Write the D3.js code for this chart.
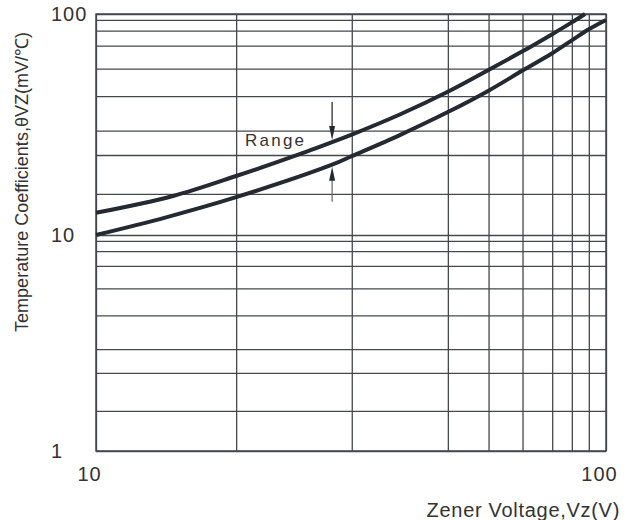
<!DOCTYPE html>
<html>
<head>
<meta charset="utf-8">
<script src="https://cdn.jsdelivr.net/npm/d3@7/dist/d3.min.js"></script>
<style>
    body { margin: 0; background: #fff; }
    text { font-family: "Liberation Sans", Arial, sans-serif; fill: #333; }
</style>
</head>
<body>
<div id="chart"></div>
<script>
// grid values (x: Zener voltage, y: temperature coefficient)
var xGridValues = [10, 20, 30, 40, 50, 60, 70, 80, 90, 100];
var yGridValues = [1, 2, 3, 4, 5, 6, 7, 8, 9, 10, 20, 30, 40, 50, 60, 70, 80, 90, 100];
var xTickLabels = [10, 100];
var yTickLabels = [1, 10, 100];

// upper limit of the range
var upperVz = [10, 15.5, 20, 26.1, 28.3, 30, 35, 40, 50, 60, 70, 80, 87.8];
var upperTc = [15.4, 19.5, 24.6, 31.4, 35.3, 38.4, 44.7, 51.6, 59.5, 67.5, 77.6, 87.7, 100];

// lower limit of the range
var lowerVz = [10, 15, 20, 28.3, 30, 35, 40, 50, 60, 70, 80, 90, 100];
var lowerTc = [10, 14.3, 19.2, 27.5, 29.7, 38.2, 45.4, 52, 59.3, 66.7, 73.5, 81.2, 90];

// "Range" marker position
var rangeVz = 28.3;
var rangeTc = [35.3, 27.5];

var margin = { top: 14, right: 27, bottom: 69, left: 96 },
    width = 633 - margin.left - margin.right,
    height = 520 - margin.top - margin.bottom;

// the printed grid is not a true log grid, so the scales follow the
// spacing of the drawn lines inside each decade
var xStops = [0, .2748, .5015, .6899, .7697, .8363, .8945, .9330, .9663, 1];
var yStops = [0, .186, .362, .472, .628, .753, .857, .925, .973];
var upperDecade = 221, lowerDecade = height - upperDecade;

var x = d3.scaleLinear()
    .domain(xGridValues)
    .range(xStops.map(function(f) { return f * width; }));

var y = d3.scaleLinear()
    .domain(yGridValues)
    .range(yGridValues.map(function(v) {
        if (v < 10) return height - yStops[v - 1] * lowerDecade;
        if (v === 100) return 0;
        return upperDecade - yStops[v / 10 - 1] * upperDecade;
    }));

var svg = d3.select("#chart").append("svg")
    .attr("width", 633)
    .attr("height", 520)
    .append("g")
    .attr("transform", "translate(" + margin.left + "," + margin.top + ")");

// grid
svg.append("g")
    .attr("class", "grid")
    .attr("transform", "translate(0," + height + ")")
    .call(d3.axisBottom(x).tickValues(xGridValues).tickSize(-height).tickFormat(""));
svg.append("g")
    .attr("class", "grid")
    .call(d3.axisLeft(y).tickValues(yGridValues).tickSize(-width).tickFormat(""));
svg.selectAll(".grid .domain").remove();
svg.selectAll(".grid line")
    .attr("stroke", "#44484d")
    .attr("stroke-width", 1.3);

svg.append("rect")
    .attr("width", width)
    .attr("height", height)
    .attr("fill", "none")
    .attr("stroke", "#44484d")
    .attr("stroke-width", 1.5);

// tick labels
var xLab = svg.append("g")
    .attr("transform", "translate(0," + height + ")")
    .call(d3.axisBottom(x).tickValues(xTickLabels).tickSize(0).tickPadding(0));
xLab.select(".domain").remove();
xLab.selectAll("text")
    .attr("y", 30)
    .attr("dy", 0)
    .attr("dx", -7)
    .style("font-size", "20px")
    .style("letter-spacing", "1px");

var yLab = svg.append("g")
    .call(d3.axisLeft(y).tickValues(yTickLabels).tickSize(0));
yLab.select(".domain").remove();
yLab.selectAll("text")
    .attr("x", -45)
    .attr("text-anchor", "start")
    .style("font-size", "20px")
    .style("letter-spacing", "1px");
svg.selectAll(".tick text").attr("fill", "#333");

// axis titles
svg.append("text")
    .attr("x", width + 14)
    .attr("y", height + 66)
    .attr("text-anchor", "end")
    .style("font-size", "20px")
    .style("letter-spacing", "0.7px")
    .text("Zener Voltage,Vz(V)");

svg.append("text")
    .attr("transform", "translate(" + (28 - margin.left) + "," + (182 - margin.top) + ") rotate(-90)")
    .attr("text-anchor", "middle")
    .style("font-size", "18px")
    .text("Temperature Coefficients,\u03b8VZ(mV/\u2103)");

// curves
var line = d3.line()
    .x(function(d) { return x(d[0]); })
    .y(function(d) { return y(d[1]); })
    .curve(d3.curveCatmullRom.alpha(0.5));

[d3.zip(upperVz, upperTc), d3.zip(lowerVz, lowerTc)].forEach(function(data) {
    svg.append("path")
        .datum(data)
        .attr("fill", "none")
        .attr("stroke", "#232a31")
        .attr("stroke-width", 4)
        .attr("d", line);
});

// range arrows
var ax = x(rangeVz);
var topTip = y(rangeTc[0]) - 2,
    botTip = y(rangeTc[1]) + 2;

svg.append("line")
    .attr("x1", ax).attr("x2", ax)
    .attr("y1", topTip - 38).attr("y2", topTip - 10)
    .attr("stroke", "#2a2f35").attr("stroke-width", 1.3);
svg.append("path")
    .attr("d", "M" + ax + "," + topTip + "L" + (ax - 3) + "," + (topTip - 14) + "L" + (ax + 3) + "," + (topTip - 14) + "Z")
    .attr("fill", "#232a31");

svg.append("line")
    .attr("x1", ax).attr("x2", ax)
    .attr("y1", botTip + 10).attr("y2", botTip + 35)
    .attr("stroke", "#6a6e73").attr("stroke-width", 1.3);
svg.append("path")
    .attr("d", "M" + ax + "," + botTip + "L" + (ax - 3) + "," + (botTip + 14) + "L" + (ax + 3) + "," + (botTip + 14) + "Z")
    .attr("fill", "#232a31");

svg.append("text")
    .attr("x", ax - 87)
    .attr("y", topTip + 6)
    .style("font-size", "17px")
    .style("letter-spacing", "2.2px")
    .text("Range");
</script>
</body>
</html>
